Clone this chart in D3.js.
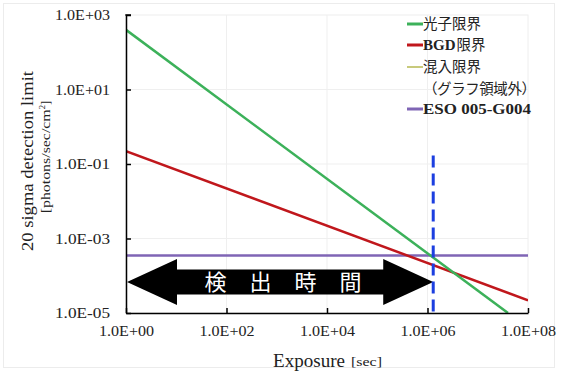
<!DOCTYPE html>
<html>
<head>
<meta charset="utf-8">
<script src="https://cdn.jsdelivr.net/npm/d3@7"></script>
<style>
  html, body { margin: 0; padding: 0; background: #fff; }
  svg { display: block; }
</style>
</head>
<body>
<svg id="chart" width="563" height="371"></svg>
<script>
// Axis ticks (decades)
const xTicks = [1e0, 1e2, 1e4, 1e6, 1e8];
const yTicks = [1e3, 1e1, 1e-1, 1e-3, 1e-5];

// Photon-limited detection (falls as 1/t)
const photonExposure = [1, 4e7];
const photonLimit = [400, 1e-5];

// Background-limited detection (falls as 1/sqrt(t))
const bgdExposure = [1, 1e8];
const bgdLimit = [0.22, 2.2e-5];

// Source flux of ESO 005-G004 (constant)
const esoExposure = [1, 1e8];
const esoFlux = [3.5e-4, 3.5e-4];

// Exposure needed for detection
const detectExposure = 1.3e6;
const detectTop = 0.17;

// Legend rows: optional bold Latin prefix, then Japanese text
const legendItems = [
  { latin: "", jp: "光子限界", color: "#3cb15a", width: 3 },
  { latin: "BGD", jp: "限界", color: "#c0171c", width: 3 },
  { latin: "", jp: "混入限界", color: "#b6b850", width: 1.5 },
  { latin: "", jp: "（グラフ領域外）", color: null, width: 0 },
  { latin: "ESO 005-G004", jp: "", color: "#7f65b5", width: 3 }
];

const fmt = v => {
  const e = Math.round(Math.log10(v));
  const s = e < 0 ? "-" : "+";
  return "1.0E" + s + String(Math.abs(e)).padStart(2, "0");
};

const svg = d3.select("#chart");
const m = { left: 126, right: 528, top: 15, bottom: 313 };

const x = d3.scaleLog().domain([1, 1e8]).range([m.left, m.right]);
const y = d3.scaleLog().domain([1e-5, 1e3]).range([m.bottom, m.top]);

const serif = "'Liberation Serif', 'Times New Roman', serif";
const jp = "'Noto Sans CJK JP', sans-serif";

// Outer frame
svg.append("rect").attr("x", 3.5).attr("y", 3.5).attr("width", 551).attr("height", 364)
  .attr("fill", "none").attr("stroke", "#ececec");

// Plot frame and grid
svg.append("rect").attr("x", m.left).attr("y", m.top)
  .attr("width", m.right - m.left).attr("height", m.bottom - m.top)
  .attr("fill", "none").attr("stroke", "#eeeeee");
svg.append("g").selectAll("line").data(xTicks.slice(1, -1)).join("line")
  .attr("x1", d => x(d)).attr("x2", d => x(d))
  .attr("y1", m.top).attr("y2", m.bottom)
  .attr("stroke", "#efefef");
svg.append("g").selectAll("line").data(yTicks.slice(1, -1)).join("line")
  .attr("x1", m.left).attr("x2", m.right)
  .attr("y1", d => y(d)).attr("y2", d => y(d))
  .attr("stroke", "#efefef");

const line = d3.line().x(d => x(d[0])).y(d => y(d[1]));
svg.append("clipPath").attr("id", "plotClip")
  .append("rect").attr("x", m.left).attr("y", m.top)
  .attr("width", m.right - m.left).attr("height", m.bottom - m.top);
const plot = svg.append("g").attr("clip-path", "url(#plotClip)");

// Detection time arrow
const ax0 = x(1) + 1, ax1 = x(detectExposure);
const cy = 282, headW = 50, headH = 23, shaftH = 12.5;
plot.append("path")
  .attr("d", [
    [ax0, cy], [ax0 + headW, cy - headH], [ax0 + headW, cy - shaftH],
    [ax1 - headW, cy - shaftH], [ax1 - headW, cy - headH], [ax1, cy],
    [ax1 - headW, cy + headH], [ax1 - headW, cy + shaftH],
    [ax0 + headW, cy + shaftH], [ax0 + headW, cy + headH]
  ].map((p, i) => (i ? "L" : "M") + p[0] + "," + p[1]).join("") + "Z")
  .attr("fill", "#000");
const labelChars = ["検", "出", "時", "間"];
const labelMid = (ax0 + ax1) / 2 + 3;
labelChars.forEach((c, i) => {
  svg.append("text").attr("x", labelMid + (i - 1.5) * 45).attr("y", cy + 8)
    .attr("text-anchor", "middle").attr("fill", "#fff")
    .attr("font-family", jp).attr("font-size", 22).text(c);
});

// Series lines
plot.append("path").datum(d3.zip(esoExposure, esoFlux)).attr("d", line)
  .attr("fill", "none").attr("stroke", "#7f65b5").attr("stroke-width", 2.5);
plot.append("path").datum(d3.zip(bgdExposure, bgdLimit)).attr("d", line)
  .attr("fill", "none").attr("stroke", "#c0171c").attr("stroke-width", 2.5);
plot.append("path").datum(d3.zip(photonExposure, photonLimit)).attr("d", line)
  .attr("fill", "none").attr("stroke", "#3cb15a").attr("stroke-width", 2.5);

// Detection exposure marker
plot.append("line")
  .attr("x1", x(detectExposure)).attr("x2", x(detectExposure))
  .attr("y1", y(detectTop)).attr("y2", m.bottom)
  .attr("stroke", "#1c3fe0").attr("stroke-width", 3)
  .attr("stroke-dasharray", "12,6");

// Axes
const xAxis = d3.axisBottom(x).tickValues(xTicks).tickFormat(fmt).tickSizeInner(-5).tickSizeOuter(0).tickPadding(13);
const gx = svg.append("g").attr("transform", `translate(0,${m.bottom})`).call(xAxis);
const yAxis = d3.axisLeft(y).tickValues(yTicks).tickFormat(fmt).tickSizeInner(-5).tickSizeOuter(0).tickPadding(16);
const gy = svg.append("g").attr("transform", `translate(${m.left},0)`).call(yAxis);
[gx, gy].forEach(g => {
  g.select(".domain").attr("stroke", "#000").attr("stroke-width", 1.5);
  g.selectAll(".tick line").attr("stroke", "#000").attr("stroke-width", 1.5);
  g.selectAll(".tick text").attr("font-family", serif).attr("font-size", 14.5).attr("fill", "#222")
    .attr("textLength", 55).attr("lengthAdjust", "spacingAndGlyphs");
});
gx.selectAll(".tick text").attr("dy", "0.71em");
// small cap at the top of the value axis
svg.append("line").attr("x1", m.left - 0.75).attr("x2", m.left + 5)
  .attr("y1", m.top).attr("y2", m.top).attr("stroke", "#000").attr("stroke-width", 1.5);

// Axis titles
svg.append("text").attr("x", 273).attr("y", 367)
  .attr("font-family", serif).attr("font-size", 18).attr("fill", "#222")
  .attr("textLength", 72).attr("lengthAdjust", "spacingAndGlyphs").text("Exposure");
svg.append("text").attr("x", 351).attr("y", 366)
  .attr("font-family", serif).attr("font-size", 13).attr("fill", "#222")
  .attr("textLength", 31).attr("lengthAdjust", "spacingAndGlyphs").text("[sec]");

svg.append("text").attr("transform", "translate(33,161) rotate(-90)")
  .attr("text-anchor", "middle").attr("font-family", serif).attr("font-size", 17)
  .attr("fill", "#222").attr("textLength", 180).attr("lengthAdjust", "spacingAndGlyphs")
  .text("20 sigma detection limit");
const yt2 = svg.append("text").attr("transform", "translate(50,157) rotate(-90)")
  .attr("text-anchor", "middle").attr("font-family", serif).attr("font-size", 13)
  .attr("fill", "#222");
yt2.append("tspan").attr("textLength", 104).attr("lengthAdjust", "spacingAndGlyphs").text("[photons/sec/cm");
yt2.append("tspan").attr("font-size", 8.5).attr("dy", -5).text("2");
yt2.append("tspan").attr("dy", 5).text("]");

// Legend
const legendY = [24, 45, 67, 89, 109];
const lg = svg.append("g");
legendItems.forEach((d, i) => {
  const ly = legendY[i];
  if (d.color) {
    lg.append("line").attr("x1", 407).attr("x2", 423)
      .attr("y1", ly).attr("y2", ly)
      .attr("stroke", d.color).attr("stroke-width", d.width);
  }
  let cx = 423;
  if (d.latin) {
    const lt = lg.append("text").attr("x", cx).attr("y", ly + 5)
      .attr("font-family", serif).attr("font-weight", "bold").attr("font-size", 15)
      .attr("fill", "#222").text(d.latin);
    if (d.latin.length > 5) lt.attr("textLength", 108).attr("lengthAdjust", "spacingAndGlyphs");
    cx += lt.node().getComputedTextLength() + 1;
  }
  if (d.jp) {
    const jt = lg.append("text").attr("x", cx).attr("y", ly + 5)
      .attr("font-family", jp).attr("font-size", 14.5).attr("fill", "#222").text(d.jp);
    if (!d.color) jt.attr("textLength", 113).attr("lengthAdjust", "spacing");
  }
});
</script>
</body>
</html>
